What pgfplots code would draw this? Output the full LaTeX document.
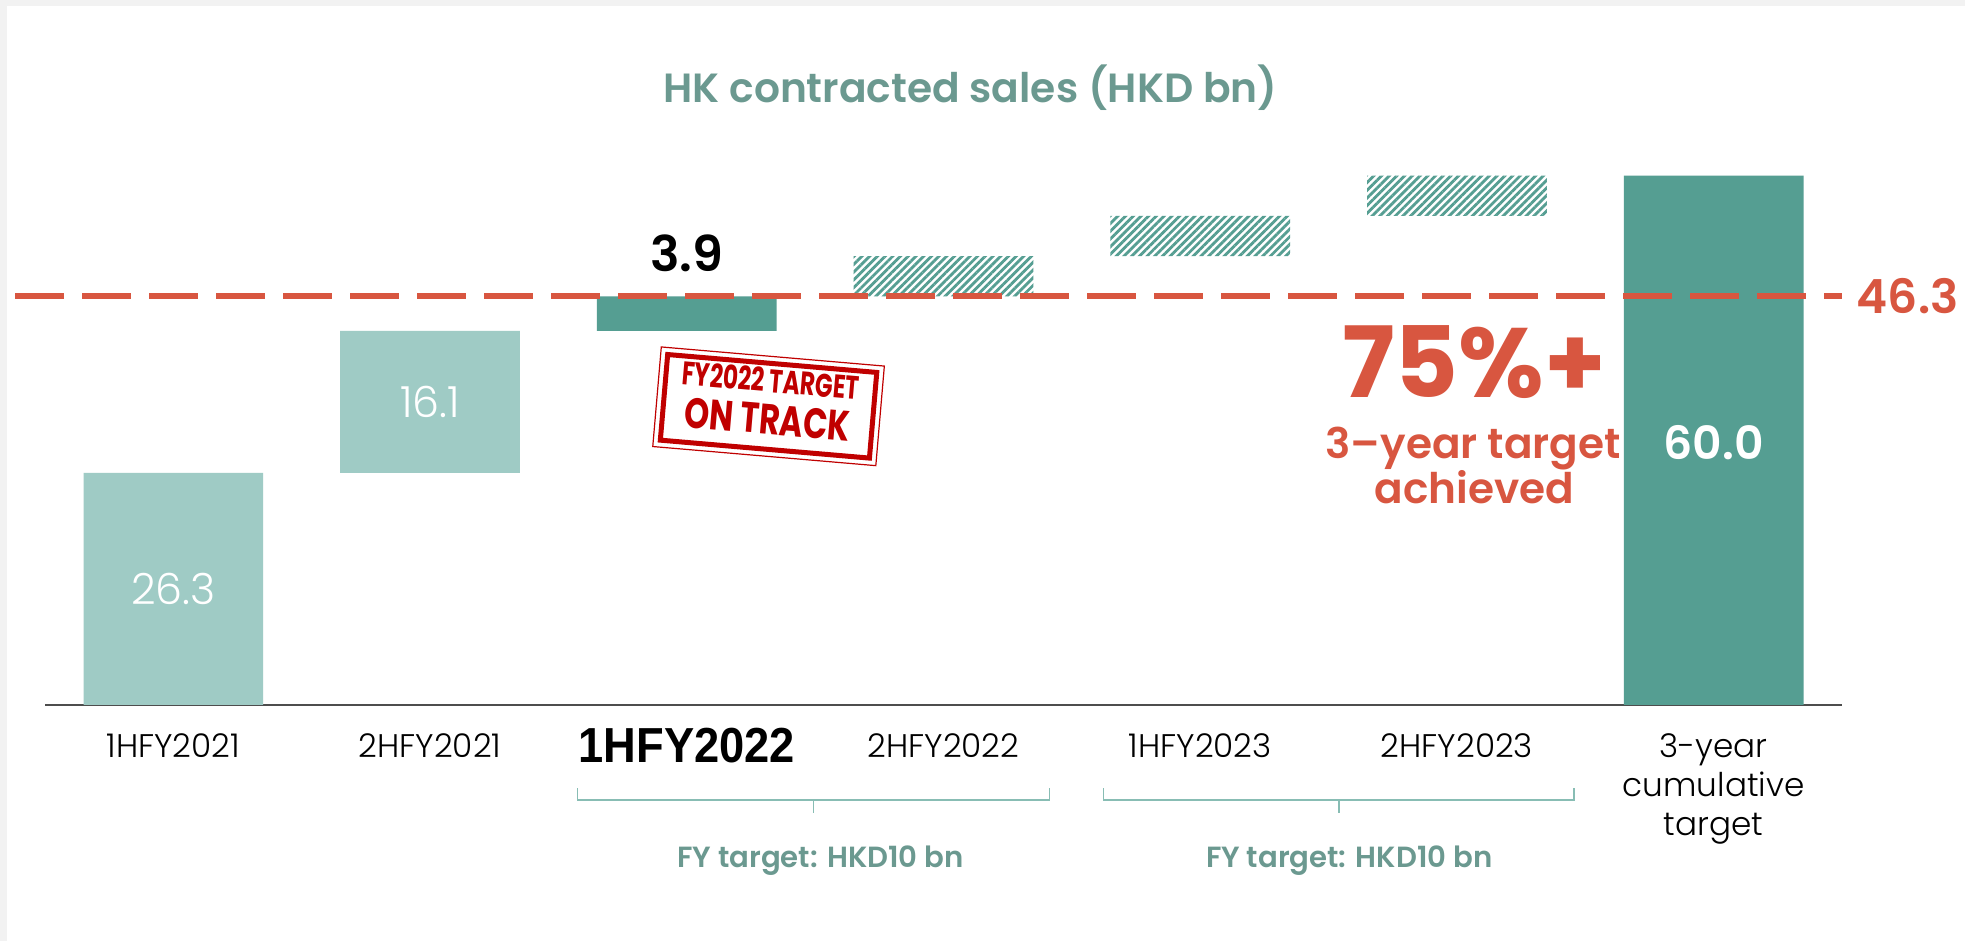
\documentclass[border=0pt]{standalone}
\usepackage{fontspec}
\setmainfont{Poppins}
\newfontfamily\plight{Poppins Light}
\newfontfamily\psemi{Poppins SemiBold}
\newfontfamily\pbold{Poppins Bold}
\newfontfamily\lsans{Liberation Sans}
\usepackage{pgfplots}
\usepackage{pgfplotstable}
\pgfplotsset{compat=1.18}
\usetikzlibrary{patterns.meta}
\definecolor{tlight}{HTML}{9FCBC5}
\definecolor{tdark}{HTML}{559E92}
\definecolor{ored}{HTML}{D85640}
\definecolor{ttitle}{HTML}{6B9990}
\definecolor{tbracket}{HTML}{88BDB4}
\definecolor{sred}{HTML}{C00000}
\definecolor{bggray}{HTML}{F2F2F2}
\definecolor{axgray}{HTML}{4D4D4D}

\pgfplotstableread{
x base light dark hatch
0 0     26.3 0    0
1 26.3  16.1 0    0
2 42.4  0    3.9  0
3 46.3  0    0    4.57
4 50.87 0    0    4.57
5 55.43 0    0    4.57
6 0     0    60.0 0
}\wfdata

\pgfplotstableread{
x y
-0.615 46.3
6.5    46.3
}\targetline

\begin{document}
\begin{tikzpicture}
\fill[bggray] (0,0) rectangle (19.65cm,9.41cm);
\fill[white] (0.07cm,0) rectangle (19.65cm,9.35cm);

\begin{axis}[
  at={(0.45cm,2.36cm)}, anchor=south west,
  scale only axis, width=17.97cm, height=5.295cm,
  xmin=-0.5, xmax=6.5, ymin=0, ymax=60,
  axis y line=none, axis x line*=bottom,
  x axis line style={draw=axgray, line width=0.02cm},
  ytick=\empty,
  xtick={0,1,2,3,4,5,6}, major tick length=0,
  xticklabels={1HFY2021, 2HFY2021,
    {\raisebox{-0.05cm}{\lsans\bfseries\fontsize{14}{16}\selectfont\scalebox{0.92}[1]{1HFY2022}}},
    2HFY2022, 1HFY2023, 2HFY2023,
    {\begin{tabular}[t]{@{}c@{}}3-year\\cumulative\\target\end{tabular}}},
  xticklabel style={anchor=base, yshift=-0.53cm, inner sep=0, text=black,
    font=\plight\fontsize{9.3}{11}\selectfont},
  clip=false,
  ybar stacked, bar width=0.7,
]
\addplot[draw=none, fill=none] table[x=x, y=base] {\wfdata};
\addplot[draw=none, fill=tlight] table[x=x, y=light] {\wfdata};
\addplot[draw=none, fill=tdark] table[x=x, y=dark] {\wfdata};
\addplot[draw=none, pattern={Lines[angle=45, distance=1.55pt, line width=0.8pt]}, pattern color=tdark] table[x=x, y=hatch] {\wfdata};
\end{axis}

\begin{axis}[
  at={(0.45cm,2.36cm)}, anchor=south west,
  scale only axis, width=17.97cm, height=5.295cm,
  xmin=-0.5, xmax=6.5, ymin=0, ymax=60,
  hide axis, clip=false,
]
\addplot[ored, line width=0.06cm, dash pattern=on 0.49cm off 0.18cm] table[x=x,y=y] {\targetline};
\node[anchor=west, inner sep=0, text=ored, font=\psemi\fontsize{13.4}{16}\selectfont] at (axis cs:6.555,46.3) {46.3};
\node[text=white, font=\plight\fontsize{12.2}{14}\selectfont] at (axis cs:0,13.15) {26.3};
\node[text=white, font=\plight\fontsize{12.2}{14}\selectfont] at (axis cs:1,34.35) {16.1};
\node[text=black, font=\psemi\fontsize{14}{16}\selectfont] at (axis cs:2,51.2) {3.9};
\node[text=white, font=\psemi\fontsize{13}{15}\selectfont] at (axis cs:6,29.7) {60.0};
\end{axis}

\begin{scope}[x=0.01cm,y=0.01cm]
% title
\node[anchor=base, text=ttitle, inner sep=0, font=\psemi\fontsize{11.6}{14}\selectfont] at (971,839) {HK contracted sales (HKD bn)};

% 75%+ annotation
\node[anchor=base, inner sep=0, text=ored, font=\pbold\fontsize{28}{32}\selectfont] at (1475,544) {75\%+};
\node[anchor=base, inner sep=0, text=ored, font=\psemi\fontsize{12}{15}\selectfont] at (1474,483) {3–year target};
\node[anchor=base, inner sep=0, text=ored, font=\psemi\fontsize{12}{15}\selectfont] at (1475,438) {achieved};

% stamp
\begin{scope}[shift={(769,535)}, rotate=-4.9]
\draw[sred, line width=0.012cm] (-112,-50) rectangle (112,50);
\draw[sred, line width=0.05cm] (-105,-43) rectangle (105,43);
\node[transform shape, anchor=base, text=sred, inner sep=0, text height=0.22cm, text depth=0pt, font=\pbold\fontsize{9.3}{11}\selectfont] at (0,14) {\scalebox{0.71}[1]{FY2022 TARGET}};
\node[transform shape, anchor=base, text=sred, inner sep=0, text height=0.29cm, text depth=0pt, font=\pbold\fontsize{12.1}{14}\selectfont] at (0,-28) {\scalebox{0.75}[1]{ON TRACK}};
\end{scope}

% brackets
\draw[tbracket, line width=0.015cm] (578,153) -- (578,141) -- (1050,141) -- (1050,153);
\draw[tbracket, line width=0.015cm] (814,141) -- (814,128);
\draw[tbracket, line width=0.015cm] (1104,153) -- (1104,141) -- (1575,141) -- (1575,153);
\draw[tbracket, line width=0.015cm] (1340,141) -- (1340,128);
\node[anchor=base, inner sep=0, text=ttitle, font=\psemi\fontsize{8.3}{10}\selectfont] at (821,74) {FY target: HKD10 bn};
\node[anchor=base, inner sep=0, text=ttitle, font=\psemi\fontsize{8.3}{10}\selectfont] at (1350,74) {FY target: HKD10 bn};
\end{scope}

\pgfresetboundingbox
\useasboundingbox (0,0) rectangle (19.65cm,9.41cm);
\end{tikzpicture}
\end{document}
